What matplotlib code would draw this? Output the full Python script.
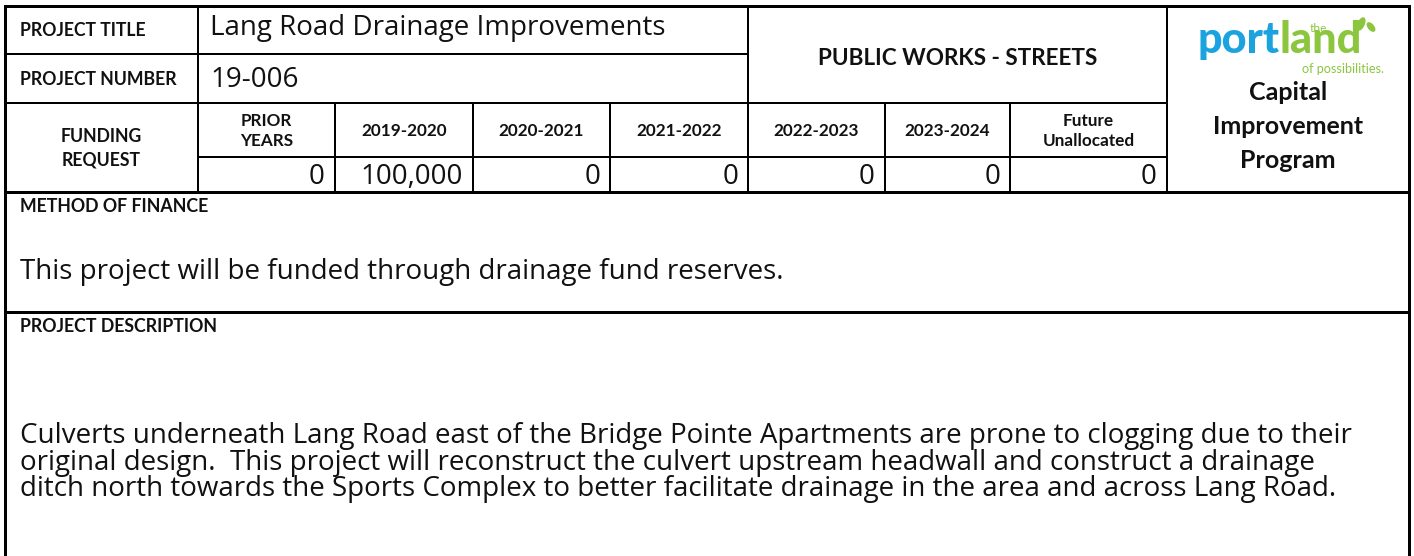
import matplotlib
matplotlib.use("Agg")
import matplotlib.pyplot as plt
from matplotlib.patches import Ellipse

# ---------------- data ----------------
project_title = "Lang Road Drainage Improvements"
project_number = "19-006"
department = "PUBLIC WORKS - STREETS"
periods = ["PRIOR\nYEARS", "2019-2020", "2020-2021", "2021-2022",
           "2022-2023", "2023-2024", "Future\nUnallocated"]
funding = [0, 100000, 0, 0, 0, 0, 0]
program_lines = ["Capital", "Improvement", "Program"]
finance_text = "This project will be funded through drainage fund reserves."
description_lines = [
    "Culverts underneath Lang Road east of the Bridge Pointe Apartments are prone to clogging due to their",
    "original design.  This project will reconstruct the culvert upstream headwall and construct a drainage",
    "ditch north towards the Sports Complex to better facilitate drainage in the area and across Lang Road.",
]

# ---------------- layout ----------------
W, H = 1414, 556
DPI = 100
FONT = "Lato"
BODY = "Open Sans"
fig = plt.figure(figsize=(W / DPI, H / DPI), dpi=DPI)
ax = fig.add_axes([0, 0, 1, 1])
ax.set_xlim(0, W)
ax.set_ylim(H, 0)
ax.axis("off")

renderer = fig.canvas.get_renderer()


def fit_size(text, weight, target_px, family=FONT):
    t = ax.text(0, 0, text, fontsize=10, fontweight=weight, family=family)
    w = t.get_window_extent(renderer=renderer).width
    t.remove()
    return 10 * target_px / w


PX = 72 / DPI  # points per pixel
LW_IN = 2 * PX
LW_OUT = 3 * PX

xL, xR = 5, 1409
x_lab = 198
x_mid = 748
x_logo = 1167
col_edges = [198, 335, 473, 610, 748, 885, 1010, 1167]
yT, y1, y2, y3, y4, y5 = 6, 54, 103, 157, 192, 312


def hl(y, x0, x1, lw):
    ax.plot([x0, x1], [y, y], color="black", lw=lw, solid_capstyle="projecting")


def vl(x, y0, y1_, lw):
    ax.plot([x, x], [y0, y1_], color="black", lw=lw, solid_capstyle="projecting")


hl(yT, xL, xR, LW_OUT)
vl(xL, yT, H + 5, LW_OUT)
vl(xR, yT, H + 5, LW_OUT)
hl(y1, xL, x_mid, LW_IN)
hl(y2, xL, x_logo, LW_IN)
hl(y3, x_lab, x_logo, LW_IN)
hl(y4, xL, xR, LW_OUT)
hl(y5, xL, xR, LW_OUT)
vl(x_lab, yT, y4, LW_IN)
vl(x_mid, yT, y4, LW_IN)
vl(x_logo, yT, y4, LW_IN)
for x in col_edges[1:-1]:
    vl(x, y2, y4, LW_IN)

# font sizes
fs_body = fit_size(description_lines[0], "normal", 1360, BODY) * 0.98
fs_lab = fit_size("PROJECT NUMBER", "bold", 157)
fs_sec = fit_size("PROJECT DESCRIPTION", "bold", 198)
fs_dept = fit_size(department, "bold", 280)
fs_prog = fit_size("Improvement", "bold", 151)
TXT = "#111111"

# left labels
ax.text(20, (yT + y1) / 2 + 1, "PROJECT TITLE", fontsize=fs_lab, fontweight="bold",
        family=FONT, va="center", ha="left", color=TXT)
ax.text(20, (y1 + y2) / 2 + 1, "PROJECT NUMBER", fontsize=fs_lab, fontweight="bold",
        family=FONT, va="center", ha="left", color=TXT)
ax.text((xL + x_lab) / 2, (y2 + y4) / 2 + 1, "FUNDING\nREQUEST", fontsize=fs_lab,
        fontweight="bold", family=FONT, va="center", ha="center",
        linespacing=1.45, color=TXT)

ax.text(210, 35, project_title, fontsize=fs_body, family=BODY,
        va="baseline", ha="left", color=TXT)
ax.text(210, 87, project_number, fontsize=fs_body, family=BODY,
        va="baseline", ha="left", color=TXT)
ax.text((x_mid + x_logo) / 2, (yT + y2) / 2 + 4, department, fontsize=fs_dept,
        fontweight="bold", family=FONT, va="center", ha="center", color=TXT)

# funding table
for i, (lab, val) in enumerate(zip(periods, funding)):
    x0, x1 = col_edges[i], col_edges[i + 1]
    ax.text((x0 + x1) / 2, (y2 + y3) / 2 + 1, lab, fontsize=fs_lab * 0.97,
            fontweight="bold", family=FONT, va="center", ha="center",
            linespacing=1.25, color=TXT)
    ax.text(x1 - 10, 184, f"{val:,}", fontsize=fs_body, family=BODY,
            va="baseline", ha="right", color=TXT)

# logo
BLUE = "#1aa3df"
GREEN = "#8cc63f"
fs_logo = fit_size("portland", "black", 193) * 0.85
t1 = ax.text(1198, 53, "port", fontsize=fs_logo, fontweight="black", family=FONT,
             color=BLUE, va="baseline", ha="left")
bb = t1.get_window_extent(renderer=renderer)
x_land = ax.transData.inverted().transform((bb.x1, 0))[0]
ax.text(x_land - 1, 53, "land", fontsize=fs_logo, fontweight="black",
        family=FONT, color=GREEN, va="baseline", ha="left")
ax.text(1318, 29, "the", fontsize=fs_lab * 0.68, family=FONT, color=GREEN,
        va="center", ha="center")
ax.text(1384, 69, "of possibilities.", fontsize=fs_lab * 0.72, family=FONT,
        color=GREEN, va="center", ha="right")
ax.add_patch(Ellipse((1361, 24), 6, 13, angle=25, color=GREEN))
ax.add_patch(Ellipse((1371, 27), 5, 10, angle=-40, color=GREEN))

for k, line in enumerate(program_lines):
    ax.text((x_logo + xR) / 2, 93 + 33.5 * k, line, fontsize=fs_prog,
            fontweight="bold", family=FONT, va="center", ha="center", color=TXT)

# method of finance
ax.text(20, 207, "METHOD OF FINANCE", fontsize=fs_sec, fontweight="bold",
        family=FONT, va="center", ha="left", color=TXT)
ax.text(20, 279, finance_text, fontsize=fs_body, family=BODY, va="baseline",
        ha="left", color=TXT)

# description
ax.text(20, 327, "PROJECT DESCRIPTION", fontsize=fs_sec, fontweight="bold",
        family=FONT, va="center", ha="left", color=TXT)
for k, line in enumerate(description_lines):
    ax.text(20, 443 + 26.6 * k, line, fontsize=fs_body, family=BODY,
            va="baseline", ha="left", color=TXT)

fig.savefig("out.png", dpi=DPI)
